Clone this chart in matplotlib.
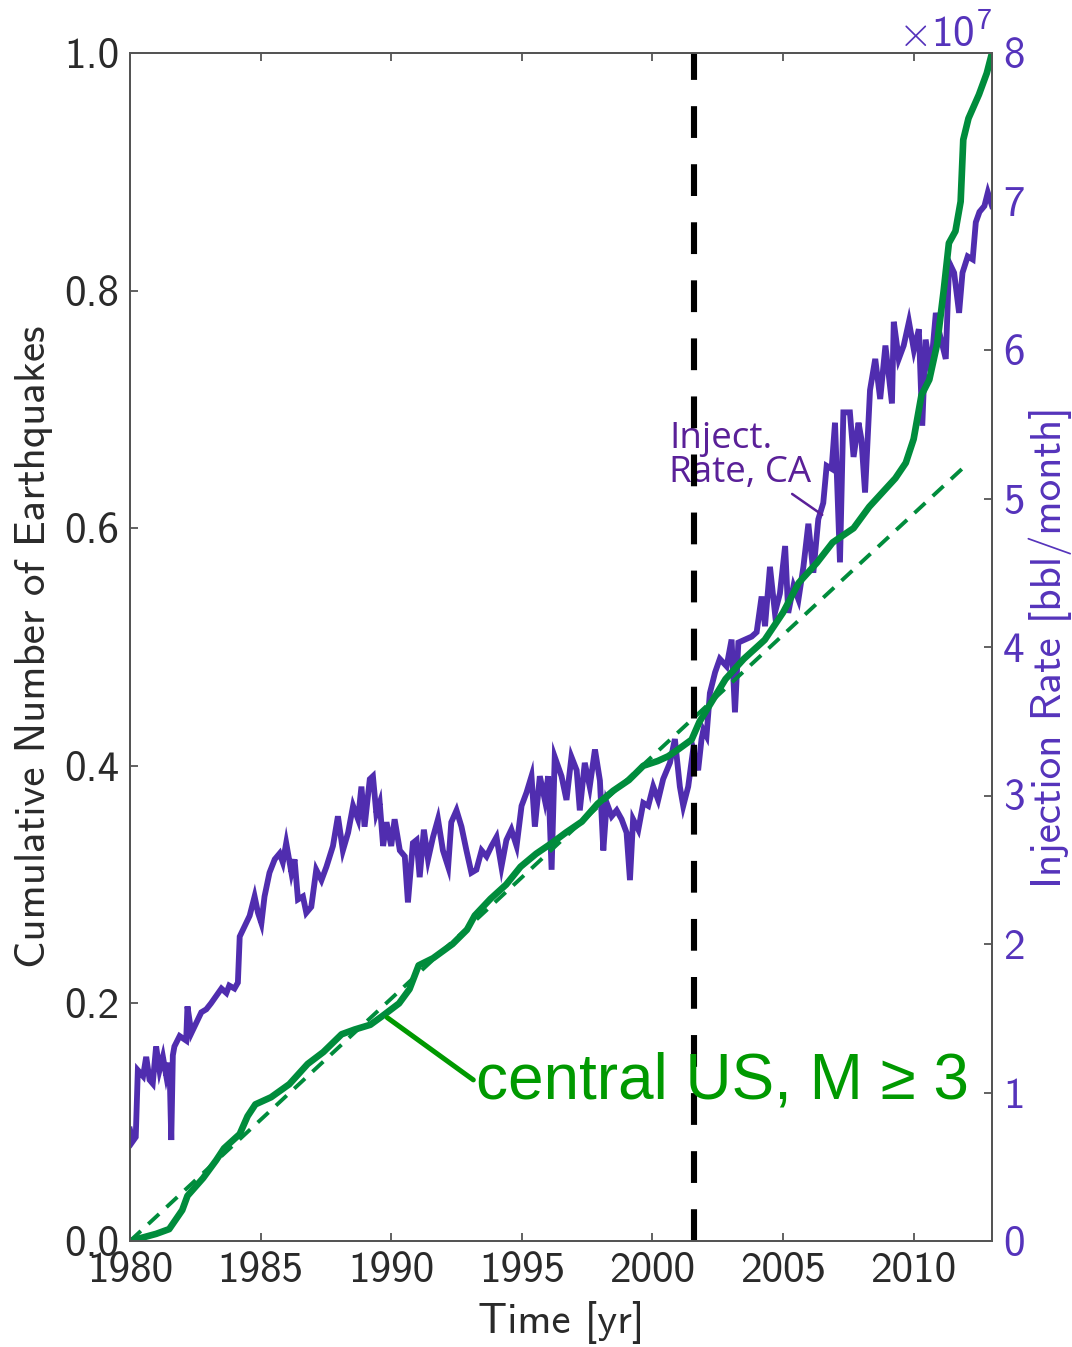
import matplotlib
matplotlib.use("Agg")
import matplotlib.pyplot as plt
import numpy as np

# ---------------- data ----------------
# Cumulative number of earthquakes (normalised), central US, M>=3
eq_years = [1980.0, 1980.5, 1981.0, 1981.5, 1982.0, 1982.2, 1982.8, 1983.3, 1983.6,
            1984.2, 1984.5, 1984.8, 1985.4, 1986.1, 1986.8, 1987.4, 1988.1, 1988.6,
            1989.2, 1989.7, 1990.3, 1990.7, 1991.05, 1991.6, 1992.35, 1992.9, 1993.2,
            1993.8, 1994.4, 1994.95, 1995.55, 1996.15, 1996.7, 1997.3, 1997.9, 1998.5,
            1999.1, 1999.65, 2000.2, 2000.6, 2001.0, 2001.5, 2001.8, 2002.3, 2002.8,
            2003.5, 2004.3, 2005.0, 2005.6, 2006.3, 2006.9, 2007.7, 2008.3, 2008.8,
            2009.3, 2009.7, 2010.0, 2010.3, 2010.6, 2010.9, 2011.15, 2011.35, 2011.6,
            2011.8, 2011.9, 2012.1, 2012.5, 2012.8, 2013.0]
eq_cum = [0.0, 0.003, 0.006, 0.010, 0.026, 0.038, 0.053, 0.068, 0.078,
          0.090, 0.105, 0.115, 0.121, 0.132, 0.149, 0.159, 0.174, 0.178,
          0.182, 0.190, 0.200, 0.212, 0.232, 0.238, 0.250, 0.262, 0.274,
          0.288, 0.300, 0.315, 0.326, 0.335, 0.344, 0.353, 0.368, 0.379,
          0.388, 0.400, 0.404, 0.408, 0.414, 0.422, 0.437, 0.455, 0.473,
          0.490, 0.506, 0.529, 0.554, 0.571, 0.588, 0.600, 0.618, 0.630,
          0.642, 0.655, 0.675, 0.712, 0.725, 0.755, 0.800, 0.840, 0.850,
          0.875, 0.927, 0.945, 0.965, 0.983, 1.0]

# linear trend (dashed)
fit_years = [1980.0, 2012.1]
fit_cum = [0.0, 0.655]

# Injection rate, CA  [x 1e7 bbl/month]
inj_years = [1980.00, 1980.10, 1980.22, 1980.30, 1980.50, 1980.62, 1980.75, 1980.87, 1981.00,
             1981.13, 1981.26, 1981.39, 1981.51, 1981.58, 1981.64, 1981.70, 1981.90, 1982.15,
             1982.20, 1982.35, 1982.54, 1982.73, 1982.92, 1983.10, 1983.30, 1983.50, 1983.69,
             1983.80, 1984.00, 1984.13, 1984.20, 1984.39, 1984.58, 1984.77, 1984.90, 1985.03,
             1985.15, 1985.34, 1985.54, 1985.73, 1985.85, 1985.98, 1986.18, 1986.30, 1986.43,
             1986.62, 1986.75, 1986.94, 1987.13, 1987.33, 1987.52, 1987.77, 1987.96, 1988.15,
             1988.35, 1988.54, 1988.73, 1988.86, 1988.98, 1989.18, 1989.30, 1989.43, 1989.56,
             1989.69, 1989.82, 1990.00, 1990.13, 1990.33, 1990.52, 1990.64, 1990.83, 1990.97,
             1991.09, 1991.25, 1991.41, 1991.60, 1991.79, 1991.98, 1992.18, 1992.30, 1992.50,
             1992.69, 1992.88, 1993.07, 1993.26, 1993.46, 1993.65, 1993.84, 1994.03, 1994.22,
             1994.41, 1994.60, 1994.80, 1994.99, 1995.18, 1995.37, 1995.50, 1995.69, 1995.88,
             1996.01, 1996.14, 1996.26, 1996.52, 1996.71, 1996.90, 1997.10, 1997.22, 1997.41,
             1997.60, 1997.80, 1997.99, 1998.12, 1998.25, 1998.44, 1998.63, 1998.82, 1999.01,
             1999.14, 1999.26, 1999.46, 1999.65, 1999.84, 2000.03, 2000.22, 2000.41, 2000.67,
             2000.86, 2001.05, 2001.18, 2001.37, 2001.56, 2001.75, 2001.88, 2001.95, 2002.07,
             2002.20, 2002.40, 2002.58, 2002.84, 2003.03, 2003.16, 2003.29, 2003.54, 2003.80,
             2003.99, 2004.18, 2004.31, 2004.50, 2004.69, 2004.88, 2005.08, 2005.20, 2005.40,
             2005.59, 2005.78, 2005.97, 2006.16, 2006.35, 2006.54, 2006.67, 2006.86, 2006.99,
             2007.18, 2007.31, 2007.56, 2007.70, 2007.89, 2008.00, 2008.14, 2008.33, 2008.53,
             2008.72, 2008.92, 2009.17, 2009.24, 2009.43, 2009.62, 2009.82, 2010.01, 2010.20,
             2010.33, 2010.46, 2010.65, 2010.85, 2010.98, 2011.23, 2011.36, 2011.55, 2011.74,
             2011.87, 2012.07, 2012.26, 2012.38, 2012.52, 2012.71, 2012.84, 2013.00]
inj_rate = [0.75, 0.67, 0.70, 1.15, 1.11, 1.24, 1.085, 1.06, 1.31,
            1.15, 1.24, 1.11, 1.20, 0.68, 1.25, 1.31, 1.38, 1.35,
            1.58, 1.40, 1.47, 1.54, 1.56, 1.60, 1.65, 1.70, 1.67,
            1.72, 1.70, 1.74, 2.05, 2.12, 2.19, 2.32, 2.21, 2.14,
            2.32, 2.48, 2.57, 2.61, 2.55, 2.68, 2.48, 2.57, 2.30,
            2.32, 2.21, 2.25, 2.50, 2.43, 2.52, 2.66, 2.86, 2.63,
            2.75, 2.93, 2.84, 3.06, 2.79, 3.11, 3.13, 2.88, 2.95,
            2.66, 2.82, 2.66, 2.84, 2.63, 2.59, 2.28, 2.68, 2.70,
            2.45, 2.77, 2.57, 2.72, 2.84, 2.63, 2.52, 2.82, 2.90,
            2.79, 2.63, 2.48, 2.50, 2.63, 2.59, 2.66, 2.72, 2.52,
            2.70, 2.77, 2.66, 2.93, 3.02, 3.13, 2.79, 3.13, 2.97,
            3.13, 2.50, 3.26, 3.13, 2.97, 3.26, 3.17, 2.90, 3.22,
            3.06, 3.31, 3.10, 2.63, 2.95, 2.86, 2.90, 2.84, 2.75,
            2.43, 2.84, 2.77, 2.95, 2.93, 3.06, 2.97, 3.11, 3.22,
            3.38, 3.06, 2.93, 3.06, 3.31, 3.17, 3.38, 3.44, 3.40,
            3.69, 3.83, 3.92, 3.87, 4.05, 3.56, 4.03, 4.05, 4.07,
            4.10, 4.34, 4.14, 4.54, 4.23, 4.36, 4.68, 4.23, 4.41,
            4.32, 4.54, 4.83, 4.50, 4.86, 4.97, 5.22, 5.20, 5.51,
            4.57, 5.58, 5.58, 5.28, 5.51, 5.40, 5.04, 5.73, 5.94,
            5.67, 6.03, 5.64, 6.19, 5.94, 6.03, 6.19, 6.00, 6.14,
            5.49, 6.07, 5.85, 6.25, 6.12, 5.94, 6.59, 6.52, 6.25,
            6.52, 6.63, 6.61, 6.86, 6.93, 6.97, 7.06, 6.97]

vline_year = 2001.6
x_ticks = [1980, 1985, 1990, 1995, 2000, 2005, 2010]
left_ticks = [0.0, 0.2, 0.4, 0.6, 0.8, 1.0]
right_ticks = [0, 1, 2, 3, 4, 5, 6, 7, 8]

# ---------------- style ----------------
GREEN = '#008c3c'
GREEN_TXT = '#009900'
PURPLE = '#502daf'
PURPLE_TXT = '#5533bb'
PURPLE_ANN = '#5a2098'
DARK = '#2a2a2a'
SPINE = '#555555'
FS = 31

plt.rcParams['font.family'] = ['cmss10', 'DejaVu Sans']
plt.rcParams['mathtext.fontset'] = 'custom'
plt.rcParams['mathtext.rm'] = 'cmss10'
plt.rcParams['mathtext.it'] = 'cmss10'
plt.rcParams['mathtext.bf'] = 'cmss10'
plt.rcParams['mathtext.sf'] = 'cmss10'
plt.rcParams['mathtext.fallback'] = 'cm'
plt.rcParams['axes.unicode_minus'] = False

fig = plt.figure(figsize=(10.72, 13.47), dpi=100)
ax = fig.add_axes([130 / 1072, (1347 - 1241) / 1347, (992 - 130) / 1072, (1241 - 53) / 1347])
ax2 = ax.twinx()
ax.set_zorder(ax2.get_zorder() + 1)
ax.patch.set_visible(False)

# purple injection rate on right axis
ax2.plot(inj_years, inj_rate, color=PURPLE, lw=4.2, solid_joinstyle='miter')
ax2.set_ylim(0, 8)
ax2.set_yticks(right_ticks)
ax2.set_yticklabels([str(t) for t in right_ticks])

# green cumulative + trend on left axis
ax.plot(fit_years, fit_cum, color=GREEN, lw=2.8, dashes=(3.8, 2.6))
ax.plot(eq_years, eq_cum, color=GREEN, lw=4.8, solid_capstyle='round')
ax.axvline(vline_year, color='black', lw=4.4, dashes=(5.2, 4.3))

ax.set_xlim(1980, 2013)
ax.set_ylim(0, 1)
ax.set_xticks(x_ticks)
ax.set_xticklabels([str(t) for t in x_ticks])
ax.set_yticks(left_ticks)
ax.set_yticklabels(['%.1f' % t for t in left_ticks])

for a in (ax, ax2):
    for s in a.spines.values():
        s.set_color(SPINE)
        s.set_linewidth(1.4)

ax.tick_params(axis='both', direction='in', length=6, width=1.3, color=SPINE,
               labelsize=FS, labelcolor=DARK, pad=8)
ax.tick_params(axis='x', top=True, bottom=True)
ax.tick_params(axis='y', left=True, right=False)
ax2.tick_params(axis='y', direction='in', length=6, width=1.3, color=SPINE,
                labelsize=FS, labelcolor=PURPLE_TXT, pad=8)

ax.set_xlabel('Time [yr]', fontsize=FS, color=DARK, labelpad=8)
ax.set_ylabel('Cumulative Number of Earthquakes', fontsize=FS, color=DARK, labelpad=8)
ax2.set_ylabel('Injection Rate [bbl/month]', fontsize=FS, color=PURPLE_TXT, labelpad=3)

# offset text
ax2.text(1.0, 1.005, r'$\times10^{7}$', transform=ax2.transAxes,
         ha='right', va='baseline', fontsize=FS, color=PURPLE_TXT)

# annotations
ax.annotate('central US, M \u2265 3', xy=(1989.85, 0.188), xytext=(1993.25, 0.1196),
            textcoords='data', fontsize=46, color=GREEN_TXT, va='baseline', ha='left',
            family=['Liberation Sans', 'DejaVu Sans'],
            arrowprops=dict(arrowstyle='-', color=GREEN_TXT, lw=3.6,
                            shrinkA=0, shrinkB=0, relpos=(0.0, 0.5)))

ax2.annotate('Inject.\nRate, CA', xy=(2006.5, 4.89), xytext=(2000.65, 5.11),
             textcoords='data', fontsize=26.5, color=PURPLE_ANN, va='baseline', ha='left',
             family=['Open Sans', 'DejaVu Sans'], linespacing=0.92,
             arrowprops=dict(arrowstyle='-', color=PURPLE_ANN, lw=1.8,
                             shrinkA=0, shrinkB=0, relpos=(0.8, 0.05)))

fig.savefig('out.png', dpi=100)
